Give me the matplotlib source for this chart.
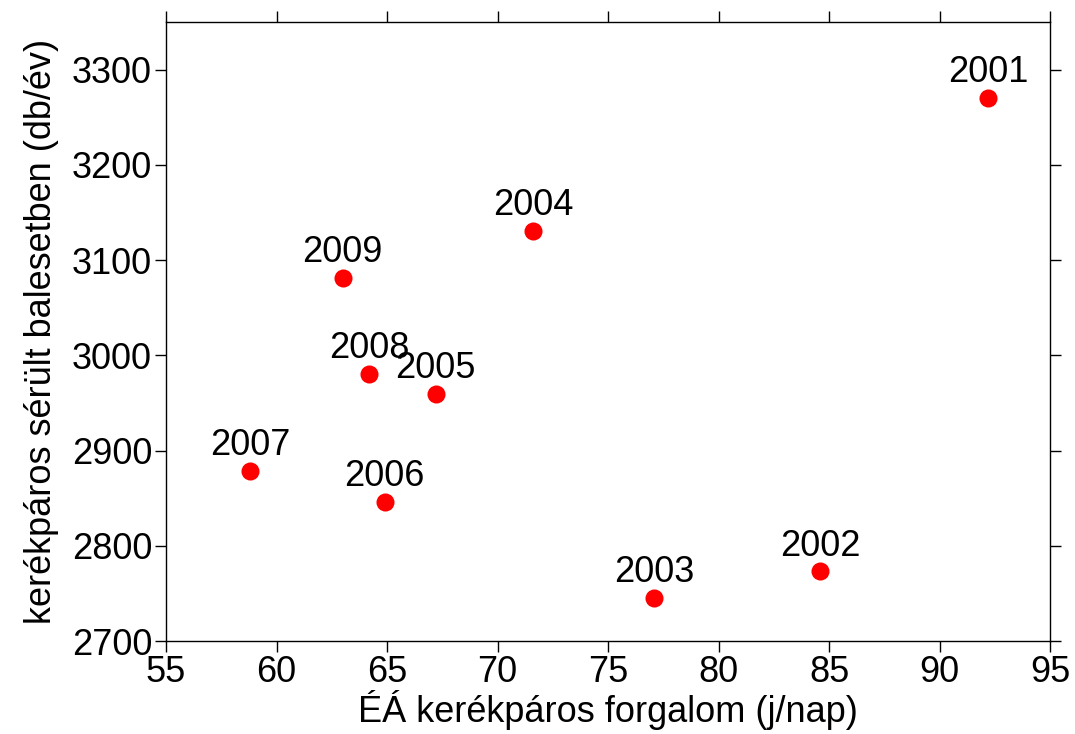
import matplotlib
matplotlib.use("Agg")
import matplotlib.pyplot as plt

years = ["2001", "2002", "2003", "2004", "2005", "2006", "2007", "2008", "2009"]
traffic = [92.2, 84.6, 77.1, 71.6, 67.2, 64.9, 58.8, 64.2, 63.0]
injured = [3270, 2773, 2745, 3131, 2959, 2846, 2879, 2980, 3081]

plt.rcParams['font.family'] = ['Liberation Sans', 'DejaVu Sans']
FS = 26

fig = plt.figure(figsize=(10.75, 7.34), dpi=100)
ax = fig.add_axes([166/1075, 1-641/734, (1050-166)/1075, (641-22)/734])

ax.plot(traffic, injured, 'o', color='red', markersize=13, markeredgewidth=0, linestyle='none')
for x, y, t in zip(traffic, injured, years):
    ax.annotate(t, (x, y), xytext=(0, 11.5), textcoords='offset points',
                ha='center', va='baseline', fontsize=FS)

ax.set_xlim(55, 95)
ax.set_ylim(2700, 3350)
ax.set_xticks(range(55, 96, 5))
ax.set_yticks(range(2700, 3301, 100))
ax.tick_params(direction='out', length=8, width=1, labelsize=FS, top=True, right=True, pad=2)
for s in ax.spines.values():
    s.set_linewidth(1)
ax.set_xlabel("ÉÁ kerékpáros forgalom (j/nap)", fontsize=FS, labelpad=0)
ax.set_ylabel("kerékpáros sérült balesetben (db/év)", fontsize=FS, labelpad=9)

fig.savefig("out.png", dpi=100)
